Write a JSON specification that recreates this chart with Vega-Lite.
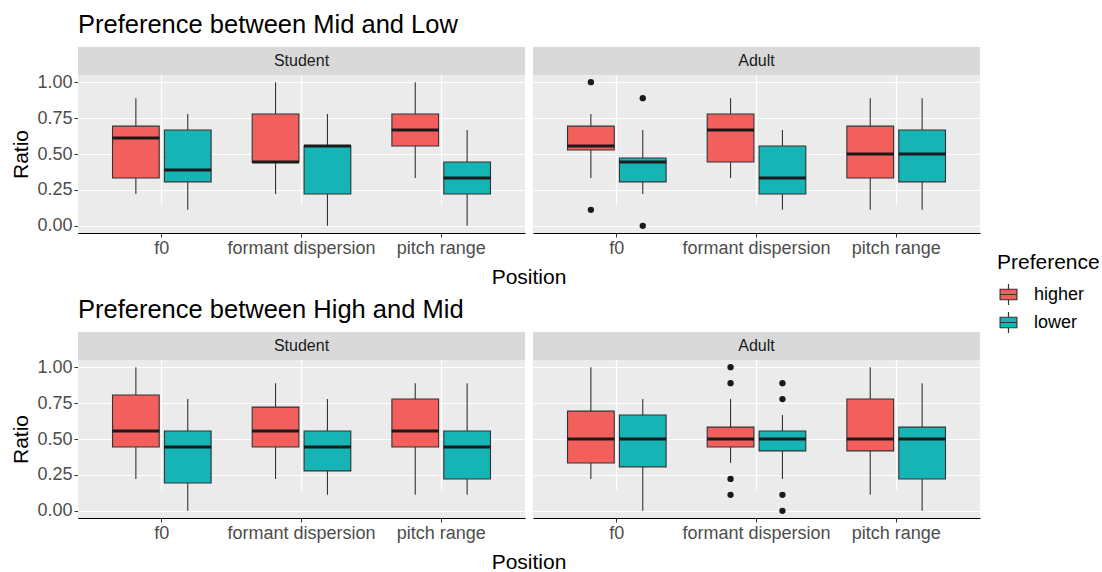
{
  "$schema": "https://vega.github.io/schema/vega-lite/v6.json",
  "padding": {"left": 10, "top": 13, "right": 0, "bottom": 0},
  "config": {
    "font": "Liberation Sans",
    "view": {"fill": "#EBEBEB", "stroke": null}
  },
  "datasets": {
    "d": [
      {"Comp": "ML", "kind": "strip", "Group": "Student"},
      {"Comp": "ML", "kind": "strip", "Group": "Adult"},
      {"Comp": "HM", "kind": "strip", "Group": "Student"},
      {"Comp": "HM", "kind": "strip", "Group": "Adult"},

      {"Comp": "ML", "kind": "box", "Group": "Student", "Position": "f0", "Preference": "higher", "lo": 0.222, "q1": 0.333, "med": 0.611, "q3": 0.694, "hi": 0.889},
      {"Comp": "ML", "kind": "box", "Group": "Student", "Position": "f0", "Preference": "lower", "lo": 0.111, "q1": 0.306, "med": 0.389, "q3": 0.667, "hi": 0.778},
      {"Comp": "ML", "kind": "box", "Group": "Student", "Position": "formant dispersion", "Preference": "higher", "lo": 0.222, "q1": 0.444, "med": 0.444, "q3": 0.778, "hi": 1.0},
      {"Comp": "ML", "kind": "box", "Group": "Student", "Position": "formant dispersion", "Preference": "lower", "lo": 0.0, "q1": 0.222, "med": 0.556, "q3": 0.556, "hi": 0.778},
      {"Comp": "ML", "kind": "box", "Group": "Student", "Position": "pitch range", "Preference": "higher", "lo": 0.333, "q1": 0.556, "med": 0.667, "q3": 0.778, "hi": 1.0},
      {"Comp": "ML", "kind": "box", "Group": "Student", "Position": "pitch range", "Preference": "lower", "lo": 0.0, "q1": 0.222, "med": 0.333, "q3": 0.444, "hi": 0.667},

      {"Comp": "ML", "kind": "box", "Group": "Adult", "Position": "f0", "Preference": "higher", "lo": 0.333, "q1": 0.528, "med": 0.556, "q3": 0.694, "hi": 0.778},
      {"Comp": "ML", "kind": "box", "Group": "Adult", "Position": "f0", "Preference": "lower", "lo": 0.222, "q1": 0.306, "med": 0.444, "q3": 0.472, "hi": 0.667},
      {"Comp": "ML", "kind": "box", "Group": "Adult", "Position": "formant dispersion", "Preference": "higher", "lo": 0.333, "q1": 0.444, "med": 0.667, "q3": 0.778, "hi": 0.889},
      {"Comp": "ML", "kind": "box", "Group": "Adult", "Position": "formant dispersion", "Preference": "lower", "lo": 0.111, "q1": 0.222, "med": 0.333, "q3": 0.556, "hi": 0.667},
      {"Comp": "ML", "kind": "box", "Group": "Adult", "Position": "pitch range", "Preference": "higher", "lo": 0.111, "q1": 0.333, "med": 0.5, "q3": 0.694, "hi": 0.889},
      {"Comp": "ML", "kind": "box", "Group": "Adult", "Position": "pitch range", "Preference": "lower", "lo": 0.111, "q1": 0.306, "med": 0.5, "q3": 0.667, "hi": 0.889},

      {"Comp": "ML", "kind": "out", "Group": "Adult", "Position": "f0", "Preference": "higher", "val": 1.0},
      {"Comp": "ML", "kind": "out", "Group": "Adult", "Position": "f0", "Preference": "higher", "val": 0.111},
      {"Comp": "ML", "kind": "out", "Group": "Adult", "Position": "f0", "Preference": "lower", "val": 0.889},
      {"Comp": "ML", "kind": "out", "Group": "Adult", "Position": "f0", "Preference": "lower", "val": 0.0},

      {"Comp": "HM", "kind": "box", "Group": "Student", "Position": "f0", "Preference": "higher", "lo": 0.222, "q1": 0.444, "med": 0.556, "q3": 0.806, "hi": 1.0},
      {"Comp": "HM", "kind": "box", "Group": "Student", "Position": "f0", "Preference": "lower", "lo": 0.0, "q1": 0.194, "med": 0.444, "q3": 0.556, "hi": 0.778},
      {"Comp": "HM", "kind": "box", "Group": "Student", "Position": "formant dispersion", "Preference": "higher", "lo": 0.222, "q1": 0.444, "med": 0.556, "q3": 0.722, "hi": 0.889},
      {"Comp": "HM", "kind": "box", "Group": "Student", "Position": "formant dispersion", "Preference": "lower", "lo": 0.111, "q1": 0.278, "med": 0.444, "q3": 0.556, "hi": 0.778},
      {"Comp": "HM", "kind": "box", "Group": "Student", "Position": "pitch range", "Preference": "higher", "lo": 0.111, "q1": 0.444, "med": 0.556, "q3": 0.778, "hi": 0.889},
      {"Comp": "HM", "kind": "box", "Group": "Student", "Position": "pitch range", "Preference": "lower", "lo": 0.111, "q1": 0.222, "med": 0.444, "q3": 0.556, "hi": 0.889},

      {"Comp": "HM", "kind": "box", "Group": "Adult", "Position": "f0", "Preference": "higher", "lo": 0.222, "q1": 0.333, "med": 0.5, "q3": 0.694, "hi": 1.0},
      {"Comp": "HM", "kind": "box", "Group": "Adult", "Position": "f0", "Preference": "lower", "lo": 0.0, "q1": 0.306, "med": 0.5, "q3": 0.667, "hi": 0.778},
      {"Comp": "HM", "kind": "box", "Group": "Adult", "Position": "formant dispersion", "Preference": "higher", "lo": 0.333, "q1": 0.444, "med": 0.5, "q3": 0.583, "hi": 0.778},
      {"Comp": "HM", "kind": "box", "Group": "Adult", "Position": "formant dispersion", "Preference": "lower", "lo": 0.222, "q1": 0.417, "med": 0.5, "q3": 0.556, "hi": 0.667},
      {"Comp": "HM", "kind": "box", "Group": "Adult", "Position": "pitch range", "Preference": "higher", "lo": 0.111, "q1": 0.417, "med": 0.5, "q3": 0.778, "hi": 1.0},
      {"Comp": "HM", "kind": "box", "Group": "Adult", "Position": "pitch range", "Preference": "lower", "lo": 0.0, "q1": 0.222, "med": 0.5, "q3": 0.583, "hi": 0.889},

      {"Comp": "HM", "kind": "out", "Group": "Adult", "Position": "formant dispersion", "Preference": "higher", "val": 1.0},
      {"Comp": "HM", "kind": "out", "Group": "Adult", "Position": "formant dispersion", "Preference": "higher", "val": 0.889},
      {"Comp": "HM", "kind": "out", "Group": "Adult", "Position": "formant dispersion", "Preference": "higher", "val": 0.222},
      {"Comp": "HM", "kind": "out", "Group": "Adult", "Position": "formant dispersion", "Preference": "higher", "val": 0.111},
      {"Comp": "HM", "kind": "out", "Group": "Adult", "Position": "formant dispersion", "Preference": "lower", "val": 0.889},
      {"Comp": "HM", "kind": "out", "Group": "Adult", "Position": "formant dispersion", "Preference": "lower", "val": 0.778},
      {"Comp": "HM", "kind": "out", "Group": "Adult", "Position": "formant dispersion", "Preference": "lower", "val": 0.111},
      {"Comp": "HM", "kind": "out", "Group": "Adult", "Position": "formant dispersion", "Preference": "lower", "val": 0.0}
    ]
  },
  "spacing": 10,
  "vconcat": [
    {
      "title": {"text": "Preference between Mid and Low", "anchor": "start", "frame": "group", "fontSize": 25.5, "fontWeight": "normal", "color": "black", "offset": 8},
      "data": {"name": "d"},
      "transform": [{"filter": "datum.Comp === 'ML'"}],
      "facet": {"column": {"field": "Group", "type": "nominal", "sort": ["Student", "Adult"],
                           "header": {"labels": false, "title": "Position", "titleOrient": "bottom", "titleFontSize": 21, "titleFontWeight": "normal", "titleColor": "black", "titlePadding": 0}}},
      "spacing": {"column": 8},
      "spec": {
        "width": 447,
        "height": 186,
        "layer": [
          {"transform": [{"filter": "datum.kind === 'box'"}],
           "mark": {"type": "rule", "color": "#333333", "strokeWidth": 1.1},
           "encoding": {
             "x": {"field": "Position", "type": "nominal", "sort": ["f0", "formant dispersion", "pitch range"],
                   "scale": {"paddingInner": 0, "paddingOuter": 0.1},
                   "axis": {"title": null, "labelAngle": 0, "bandPosition": 0.5, "grid": true, "gridColor": "white", "gridWidth": 1.2, "domainColor": "black", "domainWidth": 1, "tickColor": "#333333", "tickSize": 4, "labelColor": "#4D4D4D", "labelFontSize": 18, "labelPadding": 2}},
             "xOffset": {"field": "Preference", "type": "nominal", "scale": {"paddingInner": 0.1, "paddingOuter": 0.396}},
             "y": {"field": "lo", "type": "quantitative", "title": "Ratio",
                   "scale": {"domain": [-0.05, 1.05], "range": [186, 28], "nice": false, "zero": false},
                   "axis": {"values": [0, 0.125, 0.25, 0.375, 0.5, 0.625, 0.75, 0.875, 1], "format": ".2f", "labelOverlap": false,
                            "labelOpacity": {"condition": {"test": "datum.value * 4 % 1 === 0", "value": 1}, "value": 0},
                            "tickOpacity": {"condition": {"test": "datum.value * 4 % 1 === 0", "value": 1}, "value": 0},
                            "gridWidth": {"condition": {"test": "datum.value * 4 % 1 === 0", "value": 1.2}, "value": 0.6},
                            "gridColor": "white", "domainColor": "black", "domainWidth": 1, "tickColor": "#333333", "tickSize": 4,
                            "labelColor": "#4D4D4D", "labelFontSize": 18, "labelPadding": 2,
                            "titleFontSize": 21, "titleFontWeight": "normal", "titleColor": "black", "titlePadding": 5}},
             "y2": {"field": "hi"}
           }},
          {"transform": [{"filter": "datum.kind === 'box'"}],
           "mark": {"type": "bar", "stroke": "#333333", "strokeWidth": 1.1},
           "encoding": {
             "x": {"field": "Position", "type": "nominal", "sort": ["f0", "formant dispersion", "pitch range"]},
             "xOffset": {"field": "Preference", "type": "nominal"},
             "y": {"field": "q1", "type": "quantitative"},
             "y2": {"field": "q3"},
             "color": {"field": "Preference", "type": "nominal",
                       "scale": {"domain": ["higher", "lower"], "range": ["#F25F5C", "#17B4B6"]},
                       "legend": {"title": "Preference", "orient": "none", "legendX": 919, "legendY": 205,
                                  "titleFontSize": 21, "titleFontWeight": "normal", "titleColor": "black", "titlePadding": 10,
                                  "labelFontSize": 18, "labelColor": "black", "labelOffset": 14,
                                  "symbolType": "M-0.8,-0.5H0.8V0.5H-0.8Z M-0.8,0H0.8 M0,-0.5V-1 M0,0.5V1",
                                  "symbolSize": 440, "symbolStrokeColor": "#333333", "symbolStrokeWidth": 1.2, "symbolOpacity": 1, "rowPadding": 1}}
           }},
          {"transform": [{"filter": "datum.kind === 'box'"}],
           "mark": {"type": "tick", "color": "#1A1A1A", "size": 47, "thickness": 3, "opacity": 1},
           "encoding": {
             "x": {"field": "Position", "type": "nominal", "sort": ["f0", "formant dispersion", "pitch range"]},
             "xOffset": {"field": "Preference", "type": "nominal"},
             "y": {"field": "med", "type": "quantitative"}}},
          {"transform": [{"filter": "datum.kind === 'out'"}],
           "mark": {"type": "circle", "color": "#1A1A1A", "size": 40, "opacity": 1},
           "encoding": {
             "x": {"field": "Position", "type": "nominal", "sort": ["f0", "formant dispersion", "pitch range"]},
             "xOffset": {"field": "Preference", "type": "nominal"},
             "y": {"field": "val", "type": "quantitative"}}},
          {"transform": [{"filter": "datum.kind === 'strip'"}],
           "mark": {"type": "rect", "fill": "#D9D9D9"},
           "encoding": {"y": {"datum": 1.05, "type": "quantitative"}, "y2": {"datum": 1.245}}},
          {"transform": [{"filter": "datum.kind === 'strip'"}],
           "mark": {"type": "text", "fontSize": 16, "color": "#1A1A1A", "baseline": "middle"},
           "encoding": {"y": {"datum": 1.1475, "type": "quantitative"}, "text": {"field": "Group"}}}
        ]
      }
    },
    {
      "title": {"text": "Preference between High and Mid", "anchor": "start", "frame": "group", "fontSize": 25.5, "fontWeight": "normal", "color": "black", "offset": 8},
      "data": {"name": "d"},
      "transform": [{"filter": "datum.Comp === 'HM'"}],
      "facet": {"column": {"field": "Group", "type": "nominal", "sort": ["Student", "Adult"],
                           "header": {"labels": false, "title": "Position", "titleOrient": "bottom", "titleFontSize": 21, "titleFontWeight": "normal", "titleColor": "black", "titlePadding": 0}}},
      "spacing": {"column": 8},
      "spec": {
        "width": 447,
        "height": 186,
        "layer": [
          {"transform": [{"filter": "datum.kind === 'box'"}],
           "mark": {"type": "rule", "color": "#333333", "strokeWidth": 1.1},
           "encoding": {
             "x": {"field": "Position", "type": "nominal", "sort": ["f0", "formant dispersion", "pitch range"],
                   "scale": {"paddingInner": 0, "paddingOuter": 0.1},
                   "axis": {"title": null, "labelAngle": 0, "bandPosition": 0.5, "grid": true, "gridColor": "white", "gridWidth": 1.2, "domainColor": "black", "domainWidth": 1, "tickColor": "#333333", "tickSize": 4, "labelColor": "#4D4D4D", "labelFontSize": 18, "labelPadding": 2}},
             "xOffset": {"field": "Preference", "type": "nominal", "scale": {"paddingInner": 0.1, "paddingOuter": 0.396}},
             "y": {"field": "lo", "type": "quantitative", "title": "Ratio",
                   "scale": {"domain": [-0.05, 1.05], "range": [186, 28], "nice": false, "zero": false},
                   "axis": {"values": [0, 0.125, 0.25, 0.375, 0.5, 0.625, 0.75, 0.875, 1], "format": ".2f", "labelOverlap": false,
                            "labelOpacity": {"condition": {"test": "datum.value * 4 % 1 === 0", "value": 1}, "value": 0},
                            "tickOpacity": {"condition": {"test": "datum.value * 4 % 1 === 0", "value": 1}, "value": 0},
                            "gridWidth": {"condition": {"test": "datum.value * 4 % 1 === 0", "value": 1.2}, "value": 0.6},
                            "gridColor": "white", "domainColor": "black", "domainWidth": 1, "tickColor": "#333333", "tickSize": 4,
                            "labelColor": "#4D4D4D", "labelFontSize": 18, "labelPadding": 2,
                            "titleFontSize": 21, "titleFontWeight": "normal", "titleColor": "black", "titlePadding": 5}},
             "y2": {"field": "hi"}
           }},
          {"transform": [{"filter": "datum.kind === 'box'"}],
           "mark": {"type": "bar", "stroke": "#333333", "strokeWidth": 1.1},
           "encoding": {
             "x": {"field": "Position", "type": "nominal", "sort": ["f0", "formant dispersion", "pitch range"]},
             "xOffset": {"field": "Preference", "type": "nominal"},
             "y": {"field": "q1", "type": "quantitative"},
             "y2": {"field": "q3"},
             "color": {"field": "Preference", "type": "nominal",
                       "scale": {"domain": ["higher", "lower"], "range": ["#F25F5C", "#17B4B6"]}}
           }},
          {"transform": [{"filter": "datum.kind === 'box'"}],
           "mark": {"type": "tick", "color": "#1A1A1A", "size": 47, "thickness": 3, "opacity": 1},
           "encoding": {
             "x": {"field": "Position", "type": "nominal", "sort": ["f0", "formant dispersion", "pitch range"]},
             "xOffset": {"field": "Preference", "type": "nominal"},
             "y": {"field": "med", "type": "quantitative"}}},
          {"transform": [{"filter": "datum.kind === 'out'"}],
           "mark": {"type": "circle", "color": "#1A1A1A", "size": 40, "opacity": 1},
           "encoding": {
             "x": {"field": "Position", "type": "nominal", "sort": ["f0", "formant dispersion", "pitch range"]},
             "xOffset": {"field": "Preference", "type": "nominal"},
             "y": {"field": "val", "type": "quantitative"}}},
          {"transform": [{"filter": "datum.kind === 'strip'"}],
           "mark": {"type": "rect", "fill": "#D9D9D9"},
           "encoding": {"y": {"datum": 1.05, "type": "quantitative"}, "y2": {"datum": 1.245}}},
          {"transform": [{"filter": "datum.kind === 'strip'"}],
           "mark": {"type": "text", "fontSize": 16, "color": "#1A1A1A", "baseline": "middle"},
           "encoding": {"y": {"datum": 1.1475, "type": "quantitative"}, "text": {"field": "Group"}}}
        ]
      }
    }
  ]
}
